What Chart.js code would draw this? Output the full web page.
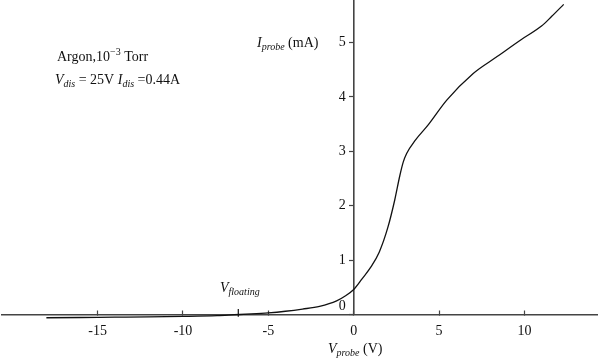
<!DOCTYPE html>
<html>
<head>
<meta charset="utf-8">
<script src="https://cdn.jsdelivr.net/npm/chart.js@4.4.1/dist/chart.umd.min.js"></script>
<style>
  html, body { margin: 0; padding: 0; background: #fff; }
  #wrap { width: 600px; height: 363px; }
</style>
</head>
<body>
<div id="wrap"><canvas id="iv"></canvas></div>
<script>
// probe I-V characteristic
const vProbe = [-18, -16, -14, -12, -10, -8, -7, -6, -5, -4, -3, -2, -1, -0.5, 0, 0.5, 1, 1.5, 2, 2.4, 2.7, 2.9, 3.1, 3.6, 4.35, 5.45, 7.0, 8.4, 9.8, 11.0, 11.6, 12.3];
const iProbe = [-0.06, -0.055, -0.05, -0.045, -0.035, -0.02, -0.005, 0.01, 0.03, 0.06, 0.1, 0.15, 0.25, 0.34, 0.46, 0.66, 0.87, 1.15, 1.6, 2.1, 2.55, 2.8, 2.96, 3.2, 3.48, 3.94, 4.43, 4.74, 5.05, 5.3, 5.48, 5.70];
const xTicks = [-15, -10, -5, 0, 5, 10];
const yTicks = [0, 1, 2, 3, 4, 5];
const vFloating = -6.76;
const floatingMark = [-0.04, 0.1];

const serif = '"Liberation Serif", "DejaVu Serif", serif';
const ink = '#111';
const axisGrey = '#444';

// draw a string made of runs (italic / subscript / superscript)
function drawRuns(ctx, x, y, runs) {
    runs.forEach(r => {
        const size = (r.sub || r.sup) ? 10 : 14;
        ctx.font = (r.it ? 'italic ' : '') + size + 'px ' + serif;
        const dy = r.sub ? 3 : (r.sup ? -6 : 0);
        ctx.fillText(r.t, x, y + dy);
        x += ctx.measureText(r.t).width;
    });
}

const labelsPlugin = {
    id: 'labels',
    afterDraw(chart) {
        const ctx = chart.ctx;
        const xs = chart.scales.x;
        const ys = chart.scales.y;
        ctx.save();
        ctx.fillStyle = ink;

        // y tick labels, left of the axis that sits at V = 0
        const axisX = xs.getPixelForValue(0);
        ctx.font = '14px ' + serif;
        ctx.textAlign = 'right';
        ctx.textBaseline = 'middle';
        yTicks.forEach(v => {
            const py = ys.getPixelForValue(v) - (v === 0 ? 8 : 0);
            ctx.fillText(String(v), axisX - 8, py);
        });

        ctx.textBaseline = 'alphabetic';
        ctx.textAlign = 'left';
        drawRuns(ctx, 57, 61, [{ t: 'Argon,10' }, { t: '\u22123', sup: true }, { t: ' Torr' }]);
        drawRuns(ctx, 55, 84, [
            { t: 'V', it: true }, { t: 'dis', it: true, sub: true }, { t: ' = 25V ' },
            { t: 'I', it: true }, { t: 'dis', it: true, sub: true }, { t: ' =0.44A' }
        ]);
        drawRuns(ctx, 257, 47, [{ t: 'I', it: true }, { t: 'probe', it: true, sub: true }, { t: ' (mA)' }]);
        drawRuns(ctx, 220, 292, [{ t: 'V', it: true }, { t: 'floating', it: true, sub: true }]);
        drawRuns(ctx, 328, 353, [{ t: 'V', it: true }, { t: 'probe', it: true, sub: true }, { t: ' (V)' }]);
        ctx.restore();
    }
};

const ctx = document.getElementById('iv').getContext('2d');
new Chart(ctx, {
    type: 'scatter',
    data: {
        datasets: [{
            data: vProbe.map((v, i) => ({ x: v, y: iProbe[i] })),
            showLine: true,
            borderColor: ink,
            borderWidth: 1.3,
            pointRadius: 0,
            cubicInterpolationMode: 'monotone',
            clip: false
        }, {
            // V_floating marker across the axis
            data: floatingMark.map(y => ({ x: vFloating, y: y })),
            showLine: true,
            borderColor: ink,
            borderWidth: 1.2,
            pointRadius: 0,
            clip: false
        }]
    },
    options: {
        responsive: true,
        maintainAspectRatio: false,
        animation: false,
        layout: { padding: { left: 2, right: 3, top: 0, bottom: 0 } },
        plugins: { legend: { display: false }, tooltip: { enabled: false } },
        scales: {
            x: {
                type: 'linear',
                position: 'bottom',
                min: -20.6,
                max: 14.25,
                afterBuildTicks: s => { s.ticks = xTicks.map(v => ({ value: v })); },
                afterFit: s => { s.height = 48.5; },
                grid: { drawOnChartArea: false, tickLength: -4, color: axisGrey, tickWidth: 1.2 },
                border: { color: axisGrey, width: 1.6 },
                ticks: { padding: 12, color: ink, maxRotation: 0, font: { family: serif, size: 14 } }
            },
            y: {
                type: 'linear',
                position: { x: 0 },
                min: 0,
                max: 5.78,
                afterBuildTicks: s => { s.ticks = yTicks.map(v => ({ value: v })); },
                afterFit: s => { s.paddingTop = 0; s.paddingBottom = 0; },
                grid: { drawOnChartArea: false, tickLength: 4, color: axisGrey, tickWidth: 1.2 },
                border: { color: axisGrey, width: 1.6 },
                ticks: { display: false }
            }
        }
    },
    plugins: [labelsPlugin]
});
</script>
</body>
</html>
